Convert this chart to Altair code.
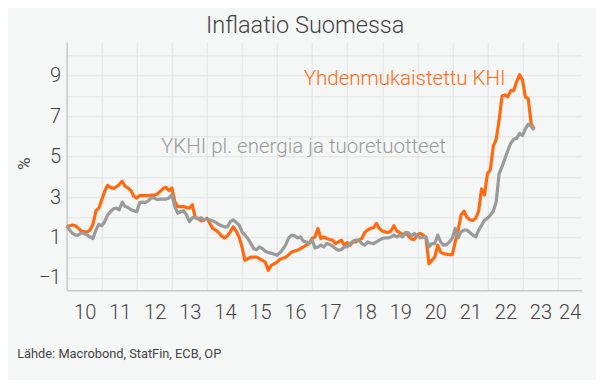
import altair as alt
import pandas as pd

FONT = "Roboto, 'Liberation Sans', sans-serif"
TXT = "#444444"
ORANGE = "#ff6a10"
GREY = "#9a9a9a"

start_year = 2010
year_ticks = list(range(2010, 2025))
y_ticks = list(range(-1, 11))

# Yhdenmukaistettu KHI (HICP), % y/y, monthly from Jan 2010
hicp = [
    1.53, 1.58, 1.62, 1.58, 1.45, 1.32, 1.28, 1.28, 1.37, 1.65, 2.32, 2.45,   # 2010
    2.87, 3.28, 3.58, 3.48, 3.42, 3.50, 3.62, 3.78, 3.53, 3.45, 3.32, 3.03,   # 2011
    2.95, 3.08, 3.07, 3.07, 3.07, 3.10, 3.08, 3.15, 3.28, 3.42, 3.48, 3.32,   # 2012
    3.45, 2.78, 2.53, 2.53, 2.53, 2.48, 2.45, 2.62, 1.98, 1.95, 1.82, 1.87,   # 2013
    1.95, 1.70, 1.45, 1.37, 1.25, 1.08, 0.98, 1.08, 1.28, 1.53, 1.32, 1.03,   # 2014
    0.53, -0.13, -0.05, 0.03, 0.03, 0.03, -0.05, -0.13, -0.22, -0.63, -0.38, -0.30,  # 2015
    -0.22, -0.08, -0.02, 0.03, 0.15, 0.28, 0.33, 0.37, 0.45, 0.53, 0.62, 0.70,  # 2016
    0.95, 1.03, 1.45, 0.95, 1.03, 0.95, 0.90, 0.87, 0.70, 0.78, 0.87, 0.62,   # 2017
    0.75, 0.62, 0.78, 0.78, 0.87, 0.95, 1.25, 1.37, 1.45, 1.48, 1.70, 1.45,   # 2018
    1.32, 1.28, 1.25, 1.32, 1.58, 1.32, 1.25, 1.15, 1.20, 1.08, 0.92, 0.90,   # 2019
    1.15, 1.20, 1.12, 0.95, -0.30, -0.13, 0.03, 0.62, 0.28, 0.20, 0.18, 0.15,  # 2020
    0.15, 0.78, 1.37, 2.12, 2.30, 2.00, 1.88, 1.85, 1.95, 2.30, 3.40, 3.10,   # 2021
    4.15, 4.35, 5.50, 5.85, 6.78, 8.00, 8.05, 7.95, 8.26, 8.26, 8.70, 9.05,   # 2022
    8.80, 7.95, 7.85, 6.60, 6.37,                                             # 2023
]

# YKHI pl. energia ja tuoretuotteet (core HICP), % y/y
core = [
    1.57, 1.37, 1.20, 1.12, 1.12, 1.23, 1.20, 1.12, 1.03, 0.95, 1.37, 1.65,   # 2010
    1.58, 1.78, 2.12, 2.28, 2.42, 2.45, 2.37, 2.75, 2.53, 2.48, 2.37, 2.32,   # 2011
    2.28, 2.73, 2.75, 2.73, 2.82, 2.98, 2.95, 2.87, 2.90, 2.90, 2.90, 2.95,   # 2012
    3.12, 2.53, 2.20, 2.28, 2.32, 2.12, 1.78, 1.98, 1.98, 1.92, 1.98, 1.87,   # 2013
    1.92, 1.87, 1.82, 1.75, 1.65, 1.58, 1.53, 1.53, 1.78, 1.87, 1.75, 1.62,   # 2014
    1.28, 1.12, 0.95, 0.70, 0.45, 0.40, 0.53, 0.45, 0.32, 0.25, 0.23, 0.17,   # 2015
    0.12, 0.25, 0.42, 0.65, 0.98, 1.12, 1.08, 0.98, 1.03, 0.82, 0.78, 0.70,   # 2016
    0.87, 0.48, 0.53, 0.62, 0.53, 0.70, 0.65, 0.58, 0.45, 0.37, 0.40, 0.53,   # 2017
    0.53, 0.70, 0.82, 0.87, 0.87, 0.70, 0.62, 0.78, 0.73, 0.70, 0.78, 0.87,   # 2018
    0.95, 0.98, 0.98, 1.03, 1.12, 1.03, 1.12, 1.03, 1.25, 1.23, 1.07, 1.20,   # 2019
    1.08, 0.98, 1.00, 1.03, 0.53, 0.70, 0.70, 1.12, 0.78, 0.62, 0.65, 0.78,   # 2020
    0.98, 1.45, 0.98, 1.28, 1.37, 1.37, 1.25, 1.12, 1.03, 1.35, 1.60, 1.85,   # 2021
    1.95, 2.10, 2.30, 2.75, 4.15, 4.50, 4.90, 5.30, 5.66, 5.86, 5.90, 6.15,   # 2022
    6.04, 6.37, 6.60, 6.50, 6.32,                                             # 2023
]

series_names = ["Yhdenmukaistettu KHI", "YKHI pl. energia ja tuoretuotteet"]

label_texts = ["Yhdenmukaistettu KHI", "YKHI pl. energia ja tuoretuotteet"]
label_t = [2016.76, 2012.69]
label_v = [8.54, 5.16]
label_colors = [ORANGE, GREY]

rows = []
for name, vals in zip(series_names, [hicp, core]):
    for i, v in enumerate(vals):
        rows.append({"t": start_year + i / 12.0, "v": v, "series": name})
df = pd.DataFrame(rows)

ann = pd.DataFrame({"t": label_t, "v": label_v, "label": label_texts, "col": label_colors})

x_enc = alt.X(
    "t:Q",
    scale=alt.Scale(domain=[2010, 2024.69], nice=False, zero=False),
    axis=alt.Axis(
        values=year_ticks,
        format="d",
        labelExpr="substring(datum.label, 2, 4)",
        grid=True,
        gridColor="#e1e3e3",
        gridWidth=1,
        ticks=False,
        domain=True,
        domainColor="#c9cbcb",
        domainWidth=1.5,
        labelFont=FONT,
        labelFontSize=20,
        labelFontWeight=300,
        labelColor=TXT,
        labelPadding=12,
        labelOffset={"condition": {"test": "datum.value == 2024", "value": 12}, "value": 18},
        labelFlush=False,
        labelOverlap=False,
        labelBound=False,
        title="Lähde: Macrobond, StatFin, ECB, OP",
        titleFont=FONT,
        titleFontSize=12.8,
        titleFontWeight="normal",
        titleColor=TXT,
        titleAnchor="start",
        titleAlign="left",
        titleBaseline="alphabetic",
        titleX=-50,
        titleY=67,
    ),
)

y_enc = alt.Y(
    "v:Q",
    scale=alt.Scale(domain=[-1.61, 10.65], nice=False, zero=False),
    axis=alt.Axis(
        values=y_ticks,
        labelExpr="datum.value % 2 != 0 ? datum.label : ''",
        grid=True,
        gridColor="#e1e3e3",
        gridWidth=1,
        ticks=False,
        domain=True,
        domainColor="#c9cbcb",
        domainWidth=1.5,
        labelFont=FONT,
        labelFontSize=20,
        labelFontWeight=300,
        labelColor=TXT,
        labelPadding=6,
        labelOverlap=False,
        labelBound=False,
        title="%",
        titleFont=FONT,
        titleFontSize=17,
        titleFontWeight="normal",
        titleColor=TXT,
        titleBaseline="middle",
        titleX=-42,
        titleY=121,
    ),
)

base = alt.Chart(df).encode(x=x_enc, y=y_enc)

orange_line = base.transform_filter(alt.datum.series == series_names[0]).mark_line(
    color=ORANGE, strokeWidth=3.2, strokeJoin="round"
)
grey_line = base.transform_filter(alt.datum.series == series_names[1]).mark_line(
    color=GREY, strokeWidth=3.2, strokeJoin="round"
)

labels = alt.Chart(ann).mark_text(
    align="left", baseline="alphabetic", font=FONT, fontSize=20.5, fontWeight=300
).encode(x=x_enc, y=y_enc, text="label:N", color=alt.Color("col:N", scale=None))

chart = (
    alt.layer(orange_line, grey_line, labels)
    .properties(
        width=515,
        height=248,
        autosize=alt.AutoSizeParams(type="none"),
        padding={"left": 58.7, "top": 34.3, "right": 14.3, "bottom": 89.7},
        background="#f5f6f6",
        title=alt.TitleParams(
            "Inflaatio Suomessa",
            font=FONT,
            fontSize=23.5,
            fontWeight=300,
            color=TXT,
            anchor="middle",
            frame="group",
            dx=-19,
            offset=5,
        ),
    )
    .configure_view(strokeWidth=0)
)

chart.save("out.html", embed_options={"renderer": "svg", "actions": False})
